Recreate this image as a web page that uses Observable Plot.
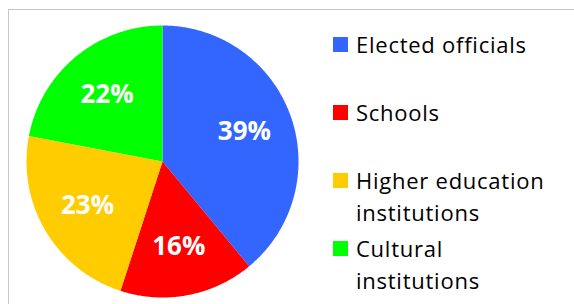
<!DOCTYPE html>
<html>
<head>
<meta charset="utf-8">
<script src="https://cdn.jsdelivr.net/npm/d3@7"></script>
<script src="https://cdn.jsdelivr.net/npm/@observablehq/plot@0.6"></script>
<style>
  html, body { margin: 0; padding: 0; background: #fff; }
  #wrap { position: relative; width: 574px; height: 304px; overflow: hidden; background: #fff; }
  #frame { position: absolute; left: 8px; top: 9px; width: 700px; height: 500px; border: 1.5px solid #c6c6c6; box-sizing: border-box; }
  #chart { position: absolute; left: 0; top: 0; }
  #legend { position: absolute; left: 333px; top: 27.5px; font-family: "Open Sans", sans-serif; font-size: 22px; letter-spacing: 0.75px; color: #000; }
  .item { position: relative; height: 68px; padding-left: 23px; line-height: 32px; width: 230px; }
  .sw { position: absolute; left: 0; top: 9.5px; width: 15px; height: 15px; }
</style>
</head>
<body>
<div id="wrap">
  <div id="frame"></div>
  <div id="chart"></div>
  <div id="legend"></div>
</div>
<script>
const categories = ["Elected officials", "Schools", "Higher education institutions", "Cultural institutions"];
const legendLines = [["Elected officials"], ["Schools"], ["Higher education", "institutions"], ["Cultural", "institutions"]];
const values = [39, 16, 23, 22];
const colors = ["#3366FF", "#FF0000", "#FFCC00", "#00FF00"];

const total = d3.sum(values);
let acc = 0;
const slices = categories.map((name, i) => {
  const a0 = acc / total * 2 * Math.PI;
  acc += values[i];
  const a1 = acc / total * 2 * Math.PI;
  return {name, value: values[i], a0, a1, mid: (a0 + a1) / 2};
});

// outline points of each wedge (unit circle, angle clockwise from top)
const pts = [];
for (const s of slices) {
  pts.push({name: s.name, x: 0, y: 0});
  const n = Math.max(2, Math.ceil((s.a1 - s.a0) / (Math.PI / 360)));
  for (let k = 0; k <= n; k++) {
    const a = s.a0 + (s.a1 - s.a0) * k / n;
    pts.push({name: s.name, x: Math.sin(a), y: Math.cos(a)});
  }
  pts.push({name: s.name, x: 0, y: 0});
}

const labelR = 0.64;
const chart = Plot.plot({
  width: 574,
  height: 304,
  marginLeft: 26,
  marginRight: 276,
  marginTop: 25,
  marginBottom: 7,
  x: {axis: null, domain: [-1, 1]},
  y: {axis: null, domain: [-1, 1]},
  color: {domain: categories, range: colors},
  style: {background: "transparent"},
  marks: [
    Plot.line(pts, {x: "x", y: "y", z: "name", fill: "name", stroke: null}),
    Plot.text(slices, {
      x: d => labelR * Math.sin(d.mid),
      y: d => labelR * Math.cos(d.mid),
      text: d => d.value + "%",
      fill: "white",
      fontSize: 26,
      fontWeight: "bold",
      fontFamily: "Open Sans, sans-serif",
      textAnchor: "middle",
      lineAnchor: "middle"
    })
  ]
});
document.getElementById("chart").append(chart);

const legend = document.getElementById("legend");
categories.forEach((c, i) => {
  const item = document.createElement("div");
  item.className = "item";
  const sw = document.createElement("div");
  sw.className = "sw";
  sw.style.background = colors[i];
  item.append(sw);
  legendLines[i].forEach(l => {
    const t = document.createElement("div");
    t.textContent = l;
    item.append(t);
  });
  legend.append(item);
});
</script>
</body>
</html>
